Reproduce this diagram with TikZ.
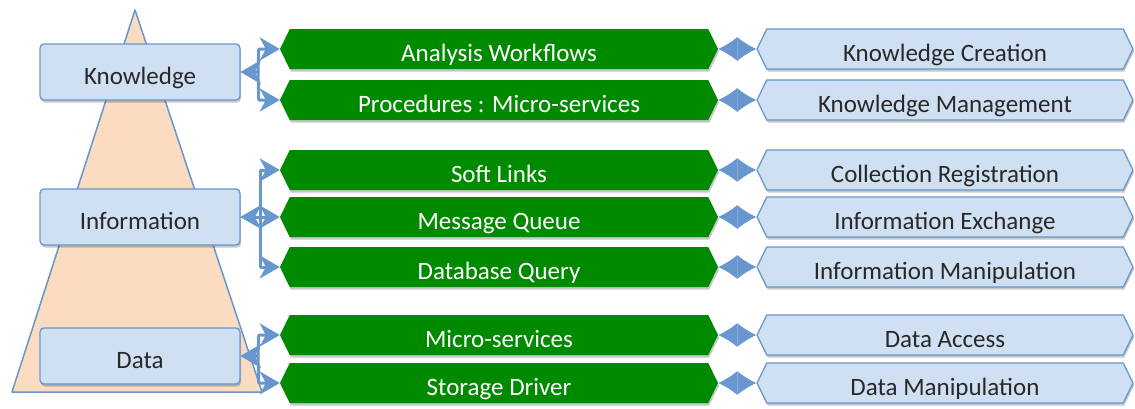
\documentclass[tikz,border=0pt]{standalone}
\usepackage{fontspec}
\setmainfont{Carlito}
\usetikzlibrary{shapes.symbols,arrows.meta,shadows}

\definecolor{boxblue}{RGB}{208,224,243}
\definecolor{lineblue}{RGB}{104,150,206}
\definecolor{toolgreen}{RGB}{0,138,0}
\definecolor{peach}{RGB}{251,220,192}
\definecolor{inkgray}{RGB}{40,40,40}

\tikzset{
  softshadow/.style={drop shadow={shadow xshift=1pt, shadow yshift=-2.5pt, fill=black, opacity=0.22}},
  level/.style={draw=lineblue, fill=boxblue, line width=1.3pt, rounded corners=4pt,
    minimum width=200pt, minimum height=56pt, inner sep=0pt, text=inkgray,
    text height=25pt, text depth=0pt, softshadow},
  tool/.style={shape=signal, signal to=west and east, signal pointer angle=128,
    fill=toolgreen, draw=none, minimum width=438pt, minimum height=40pt, inner sep=0pt,
    text=white, text height=24pt, text depth=0pt, softshadow},
  role/.style={shape=signal, signal to=west and east, signal pointer angle=128,
    fill=boxblue, draw=lineblue, line width=1.3pt, minimum width=376pt, minimum height=40pt,
    inner sep=0pt, text=inkgray, text height=24pt, text depth=0pt, softshadow},
  link/.style={draw=lineblue, line width=3pt, line join=round,
    {Stealth[length=20pt,width=23pt,inset=6pt]}-{Stealth[length=20pt,width=23pt,inset=6pt]}},
  pair/.style={draw=lineblue, line width=0.8pt,
    {Latex[length=19pt,width=24pt]}-{Latex[length=19pt,width=24pt]}}
}

\begin{document}
\begin{tikzpicture}[x=1pt, y=-1pt, font=\fontsize{25}{29}\selectfont]
	\useasboundingbox (0,0) rectangle (1135,408);

	% pyramid behind the levels
	\draw[draw=lineblue, fill=peach, line width=1.5pt, line join=round]
		(135,10) -- (262,392) -- (12,392) -- cycle;

	\node[level] (know) at (140,72) {Knowledge};
	\node[level] (info) at (140,217) {Information};
	\node[level] (data) at (140,356) {Data};

	\node[tool] (aw) at (499,49) {Analysis Workflows};
	\node[tool] (pm) at (499,100) {Procedures : Micro-services};
	\node[tool] (sl) at (499,170) {Soft Links};
	\node[tool] (mq) at (499,217) {Message Queue};
	\node[tool] (dq) at (499,267) {Database Query};
	\node[tool] (ms) at (499,335) {Micro-services};
	\node[tool] (sd) at (499,383) {Storage Driver};

	\node[role] (kc) at (945,49) {Knowledge Creation};
	\node[role] (km) at (945,100) {Knowledge Management};
	\node[role] (cr) at (945,170) {Collection Registration};
	\node[role] (ie) at (945,217) {Information Exchange};
	\node[role] (im) at (945,267) {Information Manipulation};
	\node[role] (da) at (945,335) {Data Access};
	\node[role] (dm) at (945,383) {Data Manipulation};

	\coordinate (kj) at (258,72);
	\coordinate (ij) at (260,217);
	\coordinate (dj) at (258,356);

	% branching connectors from each level
	\draw[link] (know.east) -- (kj) -- ([xshift=-21pt]aw.west) -- (aw.west);
	\draw[link] (know.east) -- (kj) -- ([xshift=-21pt]pm.west) -- (pm.west);
	\draw[link] (info.east) -- (ij) |- (sl.west);
	\draw[link] (info.east) -- (ij) |- (mq.west);
	\draw[link] (info.east) -- (ij) |- (dq.west);
	\draw[link] (data.east) -- (dj) -- ([xshift=-21pt]ms.west) -- (ms.west);
	\draw[link] (data.east) -- (dj) -- ([xshift=-21pt]sd.west) -- (sd.west);

	\path (aw) edge[pair] (kc);
	\path (pm) edge[pair] (km);
	\path (sl) edge[pair] (cr);
	\path (mq) edge[pair] (ie);
	\path (dq) edge[pair] (im);
	\path (ms) edge[pair] (da);
	\path (sd) edge[pair] (dm);
\end{tikzpicture}
\end{document}
